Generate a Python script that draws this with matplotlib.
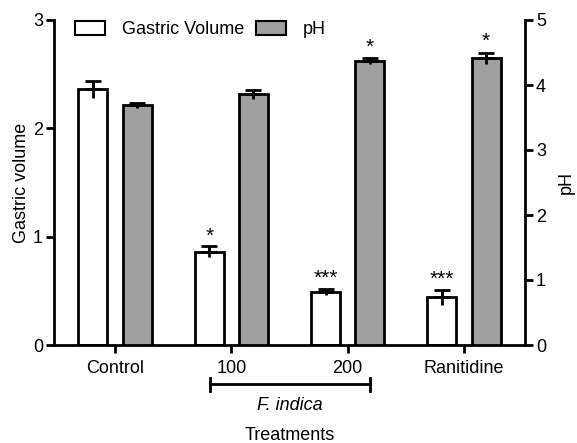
import matplotlib
matplotlib.use("Agg")
import matplotlib.pyplot as plt
from matplotlib.patches import Patch
import numpy as np

plt.rcParams['font.family'] = ['Liberation Sans', 'DejaVu Sans']

categories = ["Control", "100", "200", "Ranitidine"]
gv_mean = [2.36, 0.86, 0.49, 0.44]
gv_err = [0.08, 0.05, 0.03, 0.07]
ph_mean = [3.69, 3.86, 4.37, 4.41]
ph_err = [0.04, 0.07, 0.04, 0.09]
gv_sig = ["", "*", "***", "***"]
ph_sig = ["", "", "*", "*"]

W, H = 577, 443
fig = plt.figure(figsize=(W/100, H/100), dpi=100)
ax = fig.add_axes([54/W, 1-345/H, (525-54)/W, (345-20)/H])
ax2 = ax.twinx()

x = np.arange(len(categories))
bw = 0.25
off = 0.19
lw = 2.0
gray = '#a0a0a0'
fs = 13

ax.bar(x - off, gv_mean, width=bw, color='white', edgecolor='black', linewidth=lw, zorder=2)
ax2.bar(x + off, ph_mean, width=bw, color=gray, edgecolor='black', linewidth=lw, zorder=2)

ax.errorbar(x - off, gv_mean, yerr=gv_err, fmt='none', ecolor='black', elinewidth=2, capsize=0, zorder=3)
ax.errorbar(x - off, gv_mean, yerr=[np.zeros(4), gv_err], fmt='none', ecolor='black', elinewidth=2, capsize=5.5, capthick=2, zorder=3)
ax2.errorbar(x + off, ph_mean, yerr=ph_err, fmt='none', ecolor='black', elinewidth=2, capsize=0, zorder=3)
ax2.errorbar(x + off, ph_mean, yerr=[np.zeros(4), ph_err], fmt='none', ecolor='black', elinewidth=2, capsize=5.5, capthick=2, zorder=3)

for i in range(4):
    if gv_sig[i]:
        ax.text(x[i] - off, gv_mean[i] + gv_err[i] + 0.01, gv_sig[i], ha='center', va='bottom', fontsize=15)
    if ph_sig[i]:
        ax2.text(x[i] + off, ph_mean[i] + ph_err[i] + 0.02, ph_sig[i], ha='center', va='bottom', fontsize=15)

ax.set_xlim(-0.525, 3.525)
ax.set_ylim(0, 3)
ax2.set_ylim(0, 5)
ax.set_yticks([0, 1, 2, 3])
ax2.set_yticks([0, 1, 2, 3, 4, 5])
ax.set_xticks(x)
ax.set_xticklabels(categories)

for a in (ax, ax2):
    a.spines['top'].set_visible(False)
    for s in ('left', 'right', 'bottom'):
        a.spines[s].set_linewidth(2)
    a.tick_params(width=2, length=6, labelsize=fs, direction='out', pad=2)
ax.spines['right'].set_visible(False)
ax2.spines['left'].set_visible(False)
ax2.spines['bottom'].set_visible(False)
ax.tick_params(axis='x', pad=5)

ax.set_ylabel("Gastric volume", fontsize=fs)
ax.yaxis.set_label_coords(-(54-30)/471, 0.5)
ax2.set_ylabel("pH", fontsize=fs, labelpad=8)

# bracket under F. indica doses
bx = ax.get_xaxis_transform()
y_br = -(384-345)/(345-20)
ax.plot([x[1]-0.18, x[2]+0.19], [y_br, y_br], transform=bx, color='black', lw=2, clip_on=False)
for xv in (x[1]-0.18, x[2]+0.19):
    ax.plot([xv, xv], [y_br-0.02, y_br+0.02], transform=bx, color='black', lw=2, clip_on=False)
ax.text((x[1]+x[2])/2, -(406-345)/(345-20), "F. indica", transform=bx, ha='center', va='center',
        fontsize=fs, style='italic')
ax.text((x[1]+x[2])/2, -(435-345)/(345-20), "Treatments", transform=bx, ha='center', va='center', fontsize=fs)

handles = [Patch(facecolor='white', edgecolor='black', linewidth=1.5, label='Gastric Volume'),
           Patch(facecolor=gray, edgecolor='black', linewidth=1.5, label='pH')]
ax.legend(handles=handles, loc='upper left', bbox_to_anchor=((75-54)/471, (345-21)/325), ncol=2, frameon=False,
          fontsize=fs, handlelength=1.66, handleheight=0.83, columnspacing=0.65, handletextpad=0.95,
          borderpad=0, borderaxespad=0)

fig.savefig("out.png", dpi=100)
